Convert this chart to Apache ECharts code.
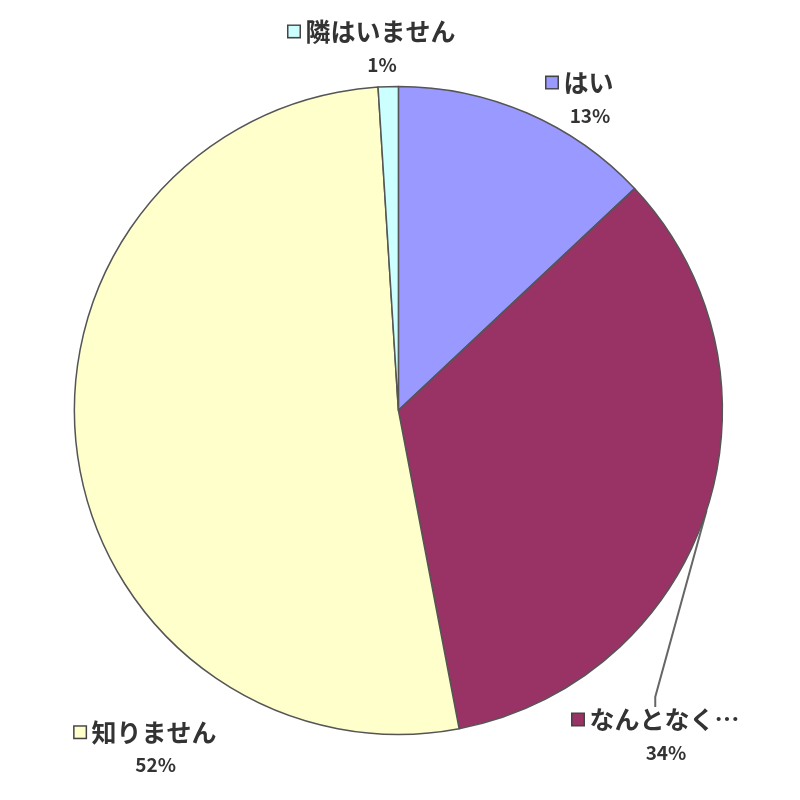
<!DOCTYPE html>
<html><head><meta charset="utf-8">
<script src="https://cdn.jsdelivr.net/npm/echarts@6/dist/echarts.min.js"></script>
<style>html,body{margin:0;padding:0;background:#fff}#c{width:800px;height:800px}</style>
</head><body><div id="c"></div>
<script>
const categories = ['はい', 'なんとなく…', '知りません', '隣はいません'];
const values = [13, 34, 52, 1];
const colors = ['#9999FF', '#993366', '#FFFFCC', '#CCFFFF'];
// label anchor positions as fractions of chart width/height
const labelPos = [[0.725, 0.122], [0.82, 0.918], [0.182, 0.934], [0.465, 0.058]];

const chart = echarts.init(document.getElementById('c'));
const rich = {};
colors.forEach((c, i) => {
  rich['k' + i] = { width: 11, height: 11, backgroundColor: c, borderColor: '#444', borderWidth: 1.5 };
});
rich.t = { fontSize: 25, fontWeight: 'bold', color: '#333', fontFamily: 'Noto Sans CJK JP', padding: [0, 0, 0, 6], lineHeight: 36 };
rich.p = { fontSize: 19, fontWeight: 'bold', color: '#333', fontFamily: 'Noto Sans CJK JP', lineHeight: 30, padding: [0, 0, 0, 20] };

chart.setOption({
  animation: false,
  backgroundColor: '#fff',
  series: [{
    type: 'pie',
    center: ['49.8%', '51.3%'],
    radius: ['0%', '81%'],
    startAngle: 90,
    clockwise: true,
    avoidLabelOverlap: false,
    data: categories.map((n, i) => ({
      name: n, value: values[i],
      itemStyle: { color: colors[i] },
      labelLine: { show: i === 1, lineStyle: { color: '#666', width: 2 } }
    })),
    itemStyle: { borderColor: '#555', borderWidth: 1.5 },
    label: {
      show: true,
      position: 'outside',
      align: 'center',
      overflow: 'none',
      width: 260,
      formatter: p => '{k' + p.dataIndex + '|}{t|' + p.name + '}\n{p|' + p.value + '%}',
      rich: rich
    },
    labelLine: { show: false, length: 10, length2: 10, smooth: false },
    labelLayout: function (params) {
      const w = chart.getWidth(), h = chart.getHeight();
      const pos = labelPos[params.dataIndex];
      return { x: pos[0] * w, y: pos[1] * h, align: 'center', verticalAlign: 'middle' };
    }
  }]
});
</script></body></html>
